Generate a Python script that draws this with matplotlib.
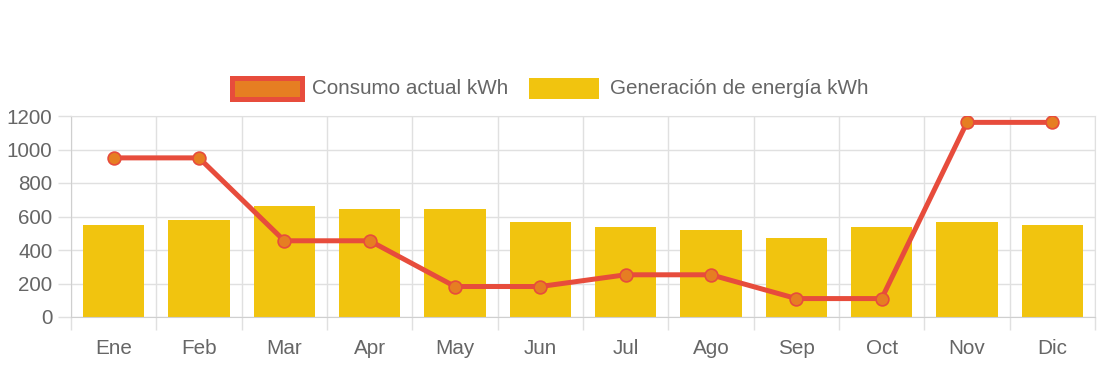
import numpy as np
import matplotlib
matplotlib.use("Agg")
from matplotlib import pyplot as plt
from matplotlib.patches import Rectangle

# data -------------------------------------------------------------------
meses = ["Ene", "Feb", "Mar", "Apr", "May", "Jun", "Jul", "Ago", "Sep", "Oct", "Nov", "Dic"]
consumo = [950, 950, 455, 455, 182, 182, 252, 252, 110, 110, 1162, 1162]
generacion = [550, 582, 660, 647, 643, 570, 535, 522, 470, 535, 570, 548]
yticks = [0, 200, 400, 600, 800, 1000, 1200]

lbl_consumo = "Consumo actual kWh"
lbl_generacion = "Generación de energía kWh"

# style -----------------------------------------------------------------
RED = "#e74c3c"
ORANGE = "#e67e22"
YELLOW = "#f1c40f"
TXT = "#666666"
GRID = "#e0e0e0"
AXIS = "#cfcfcf"
plt.rcParams["font.family"] = ["Liberation Sans", "DejaVu Sans"]
FS = 14.9

W, H = 1104, 367
fig = plt.figure(figsize=(W / 100, H / 100), dpi=100)

def px(x0, y0, x1, y1):
    # pixel box (top-left origin) -> figure fraction rect
    return [x0 / W, 1 - y1 / H, (x1 - x0) / W, (y1 - y0) / H]

ax = fig.add_axes(px(71, 116, 1095, 317))

x = np.arange(len(meses))
ax.bar(x, generacion, width=0.72, color=YELLOW, zorder=2)
ax.plot(x, consumo, color=RED, lw=3.6, marker="o", ms=9.2,
        mfc=ORANGE, mec=RED, mew=1.2, zorder=3, solid_joinstyle="miter")

ax.set_xlim(-0.5, len(meses) - 0.5)
ax.set_ylim(0, 1200)

# y axis
ax.set_yticks(yticks)
ax.tick_params(axis="y", length=9.4, width=1, color=GRID, labelsize=FS,
               labelcolor=TXT, pad=4)
ax.yaxis.grid(True, color=GRID, lw=1, zorder=0)

# x axis: labels at centres, grid + ticks at boundaries
ax.set_xticks(x)
ax.set_xticklabels(meses)
ax.tick_params(axis="x", which="major", length=0, labelsize=FS,
               labelcolor=TXT, pad=16)
ax.set_xticks(np.arange(-0.5, len(meses), 1), minor=True)
ax.tick_params(axis="x", which="minor", length=9.4, width=1, color=GRID)
ax.xaxis.grid(True, which="minor", color=GRID, lw=1, zorder=0)
ax.set_axisbelow(True)

for s in ["top", "right"]:
    ax.spines[s].set_color(GRID)
for s in ["left", "bottom"]:
    ax.spines[s].set_color(AXIS)

# legend ----------------------------------------------------------------
fig.patches.append(Rectangle((231.5 / W, 1 - 98.5 / H), 70 / W, 21 / H,
                             transform=fig.transFigure, facecolor=ORANGE,
                             edgecolor=RED, lw=3.6))
fig.text(312 / W, 1 - 88 / H, lbl_consumo, fontsize=FS, color=TXT,
         va="center", ha="left")
fig.patches.append(Rectangle((529 / W, 1 - 98.5 / H), 70 / W, 21 / H,
                             transform=fig.transFigure, facecolor=YELLOW,
                             edgecolor="none"))
fig.text(610 / W, 1 - 88 / H, lbl_generacion, fontsize=FS, color=TXT,
         va="center", ha="left")

fig.savefig("out.png", dpi=100)
